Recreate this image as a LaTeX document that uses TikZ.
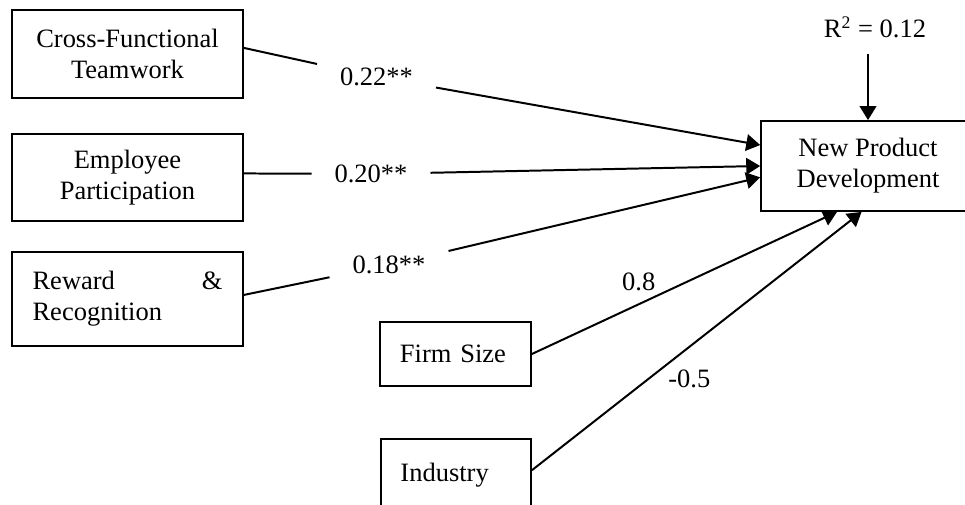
\documentclass[tikz,border=0pt]{standalone}
\usepackage{fontspec}
\setmainfont{Liberation Serif}
\usetikzlibrary{arrows.meta}

\begin{document}
\begin{tikzpicture}[x=0.453pt,y=-0.453pt,line width=0.9pt,
  font=\fontsize{12}{14}\selectfont,
  >={Triangle[length=6.3pt,width=7.5pt]},
  box/.style={draw,line width=0.8pt,align=center},
  coef/.style={inner xsep=10pt,inner ysep=4pt}]

\path[use as bounding box,fill=white] (0,0) rectangle (965,504);

\node[box,minimum width=104.6pt,minimum height=39.9pt] (cft) at (127.5,54) {Cross-Functional\\Teamwork};
\node[box,minimum width=104.6pt,minimum height=39.4pt] (ep) at (127.5,177.5) {Employee\\Participation};
\node[box,align=left,text width=86pt,minimum width=104.6pt,minimum height=42.6pt] (rr) at (127.5,299) {Reward\hfill\&\\Recognition};
\node[box,align=left,text width=50.3pt,minimum width=68.4pt,minimum height=29pt] (fs) at (455.5,354) {Firm Size};
\node[box,align=left,text width=50.3pt,minimum width=68pt,minimum height=33pt] (ind) at (456,475.5) {Industry};
\node[box,minimum width=96.9pt,minimum height=40.8pt] (npd) at (868,166) {New Product\\Development};
\node[inner ysep=6.8pt] (r2) at (875,27.5) {R\textsuperscript{2} = 0.12};

\node[coef] (l22) at (376.5,77) {0.22**};
\node[coef] (l20) at (371,174) {0.20**};
\node[coef] (l18) at (389,265) {0.18**};

\draw (cft.3) -- (l22);
\draw [->] (l22) -- (npd.169);
\draw (ep.2) -- (l20);
\draw [->] (l20) -- (npd.180);
\draw (rr.2) -- (l18);
\draw [->] (l18) -- (npd.186);
\draw [->] (fs.east) -- node[pos=0.35,above=2.5pt] (l08) {0.8} (npd.236);
\draw [->] (ind.4) -- node[pos=0.355,right=5pt] (l05) {-0.5} (npd.262);
\draw [->] (r2.south -| npd.north) -- (npd.north);
\end{tikzpicture}
\end{document}
